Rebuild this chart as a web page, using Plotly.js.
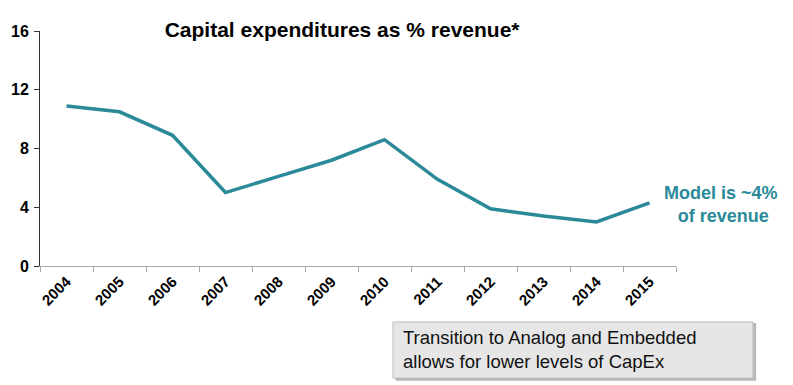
<!DOCTYPE html>
<html>
<head>
<meta charset="utf-8">
<script src="https://cdn.plot.ly/plotly-3.0.1.min.js"></script>
<style>html,body{margin:0;padding:0;background:#fff;}#chart{width:793px;height:385px;}</style>
</head>
<body>
<div id="chart"></div>
<script>
const years = ['2004','2005','2006','2007','2008','2009','2010','2011','2012','2013','2014','2015'];
const capexPct = [10.9, 10.5, 8.9, 5.0, 6.1, 7.2, 8.6, 5.9, 3.9, 3.4, 3.0, 4.3];
const yTicks = [0, 4, 8, 12, 16];
const titleText = 'Capital expenditures as % revenue*';
const modelNote = 'Model is ~4%<br> of revenue';
const boxNote = 'Transition to Analog and Embedded<br>allows for lower levels of CapEx';

const teal = '#2b8a99';
const font = 'Liberation Sans, Arial, sans-serif';

const trace = {
  x: years, y: capexPct, type: 'scatter', mode: 'lines',
  line: {color: teal, width: 3.5},
  hoverinfo: 'skip'
};

const layout = {
  width: 793, height: 385,
  margin: {l: 40, r: 117, t: 31, b: 119},
  paper_bgcolor: '#fff', plot_bgcolor: '#fff',
  showlegend: false,
  font: {family: font, color: '#000'},
  title: {text: '<b>' + titleText + '</b>', font: {size: 21, family: font, color: '#000'},
          x: 0.475, xanchor: 'center', y: 0.922, yanchor: 'middle', xref: 'paper'},
  xaxis: {
    type: 'category', range: [-0.5, 11.5], tickson: 'boundaries',
    showgrid: false, zeroline: false,
    showline: true, linecolor: '#a6a6a6', linewidth: 1,
    ticks: 'outside', ticklen: 5, tickcolor: '#a6a6a6',
    tickangle: -45, tickfont: {size: 15, family: font, color: '#000', weight: 'bold'}
  },
  yaxis: {
    range: [0, 16], tickvals: yTicks, ticktext: yTicks.map(v => '<b>' + v + '</b>'),
    showgrid: false, zeroline: false,
    showline: true, linecolor: '#333', linewidth: 1,
    ticks: 'outside', ticklen: 5, tickcolor: '#333', ticklabelstandoff: 2,
    tickfont: {size: 16, family: font, color: '#000'}
  },
  shapes: [
    {type: 'rect', xref: 'paper', yref: 'paper', x0: 0.559, x1: 1.126, y0: -0.488, y1: -0.243,
     fillcolor: '#8a8a8a', line: {width: 0}, opacity: 0.6},
    {type: 'rect', xref: 'paper', yref: 'paper', x0: 0.555, x1: 1.121, y0: -0.477, y1: -0.238,
     fillcolor: '#e6e6e6', line: {color: '#bdbdbd', width: 1}}
  ],
  annotations: [
    {xref: 'paper', yref: 'paper', x: 1.071, y: 0.26, xanchor: 'center', yanchor: 'middle',
     text: '<b>' + modelNote + '</b>', showarrow: false, align: 'center',
     font: {size: 18, family: font, color: teal}},
    {xref: 'paper', yref: 'paper', x: 0.568, y: -0.357, xanchor: 'left', yanchor: 'middle',
     text: boxNote, showarrow: false, align: 'left',
     font: {size: 18.5, family: font, color: '#111'}}
  ]
};

Plotly.newPlot('chart', [trace], layout, {staticPlot: true, displayModeBar: false});
</script>
</body>
</html>
